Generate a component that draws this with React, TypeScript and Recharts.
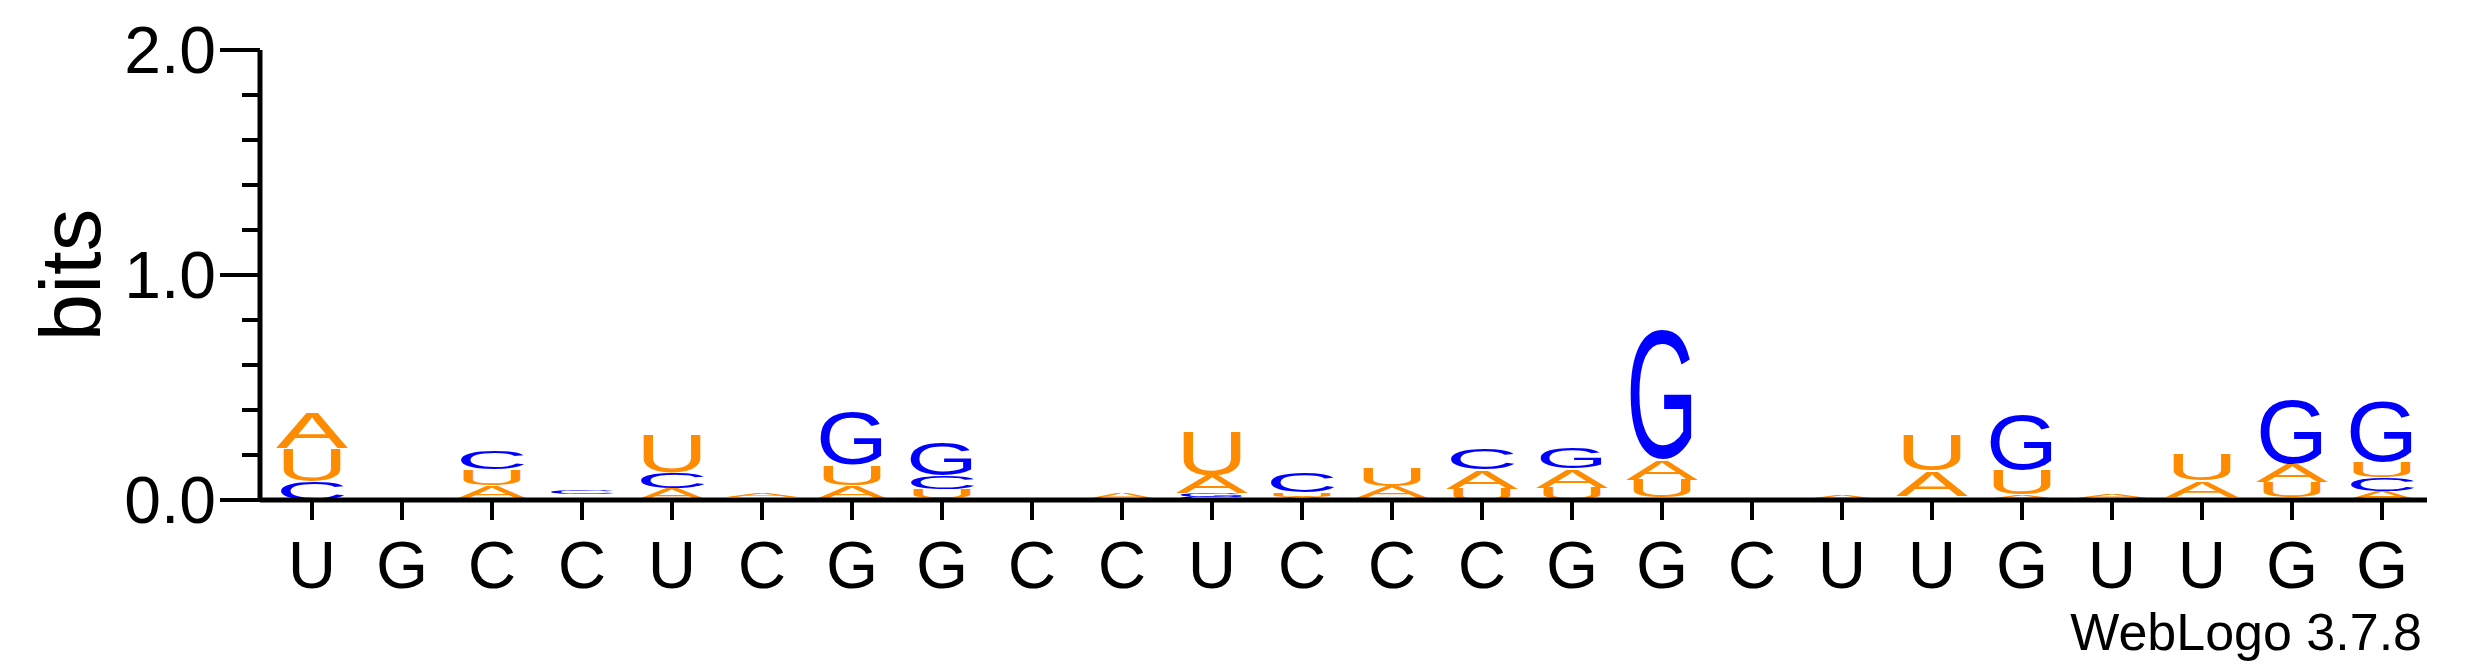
import React from 'react';
import { BarChart, Bar, XAxis, YAxis } from 'recharts';

const positions = ['U','G','C','C','U','C','G','G','C','C','U','C','C','C','G','G','C','U','U','G','U','U','G','G'];
const hA = [0.16,0,0.06,0.01,0.05,0.02,0.06,0.01,0,0.03,0.08,0.015,0.05,0.085,0.085,0.09,0,0.015,0.11,0.02,0.015,0.07,0.08,0.04];
const hC = [0.08,0,0.08,0.015,0.07,0.005,0.005,0.06,0,0,0.015,0.09,0.01,0.095,0.005,0.01,0,0,0.01,0.005,0,0.01,0.01,0.06];
const hG = [0,0,0.005,0.005,0,0,0.24,0.15,0,0,0.015,0,0,0,0.095,0.58,0,0,0.01,0.25,0,0.005,0.29,0.27];
const hU = [0.15,0,0.07,0.01,0.17,0.01,0.09,0.04,0,0.005,0.2,0.02,0.08,0.05,0.05,0.08,0,0.005,0.16,0.11,0.01,0.12,0.07,0.07];
const yTicks = [0,0.2,0.4,0.6,0.8,1,1.2,1.4,1.6,1.8,2];
const yLabels = ['0.0','1.0','2.0'];

const colors: Record<string,string> = { A: '#FF8C00', U: '#FF8C00', C: '#0000FF', G: '#0000FF' };
const FONT = '"Liberation Sans", Arial, sans-serif';

const data = positions.map((p, i) => {
  const items = [['A',hA[i]],['C',hC[i]],['G',hG[i]],['U',hU[i]]] as [string,number][];
  items.sort((a, b) => a[1] - b[1]);
  const row: any = { pos: i, label: p };
  items.forEach(([l, v], k) => { row['h' + k] = v; row['c' + k] = l; });
  return row;
});

const makeShape = (k: number) => (props: any) => {
  const { x, y, width, height, payload } = props;
  if (!height || height < 2.5) return <g />;
  const l = payload['c' + k];
  return (
    <text
      transform={`translate(${x},${y + height}) scale(${width / 70},${height / 72})`}
      fontSize={100}
      fontFamily={FONT}
      fill={colors[l]}
      x={-1}
      y={l === 'A' ? 0 : -1.2}
      textLength={72}
      lengthAdjust="spacingAndGlyphs"
    >{l}</text>
  );
};

const XTick = (props: any) => {
  const { x, y, payload } = props;
  return (
    <text x={x} y={y + 68} textAnchor="middle" fontSize={67} fontFamily={FONT} fill="#000">
      {positions[payload.value]}
    </text>
  );
};

const YTick = (props: any) => {
  const { x, y, payload } = props;
  const v = payload.value;
  const major = Math.abs(v - Math.round(v)) < 1e-6;
  return (
    <g>
      <line x1={x - (major ? 40 : 18)} x2={x} y1={y} y2={y} stroke="#000" strokeWidth={4} />
      {major && (
        <text x={x - 44} y={y + 23} textAnchor="end" fontSize={66} fontFamily={FONT} fill="#000">
          {yLabels[Math.round(v)]}
        </text>
      )}
    </g>
  );
};

export default function App() {
  return (
    <div style={{ position: 'relative', width: 2459, height: 659 }}>
      <BarChart width={2459} height={659} data={data} margin={{ top: 42, right: 40, bottom: 67, left: 0 }} barCategoryGap="11%">
        <XAxis dataKey="pos" type="category" interval={0} tick={<XTick />} tickSize={20} tickMargin={0}
          tickLine={{ stroke: '#000', strokeWidth: 4 }} axisLine={{ stroke: '#000', strokeWidth: 5 }} height={100}
          padding={{ left: 7, right: 0 }} />
        <YAxis domain={[0, 2]} ticks={yTicks} interval={0} width={252} tickSize={0} tickMargin={0}
          tick={<YTick />} tickLine={false} axisLine={{ stroke: '#000', strokeWidth: 5 }} />
        {[0, 1, 2, 3].map(k => (
          <Bar key={k} dataKey={'h' + k} stackId="s" isAnimationActive={false} shape={makeShape(k)} />
        ))}
      </BarChart>
      <svg width={2459} height={659} style={{ position: 'absolute', left: 0, top: 0, pointerEvents: 'none' }}>
        <text transform="translate(92,267) rotate(-90)" textAnchor="middle" fontSize={85} fontFamily={FONT} fill="#000">bits</text>
        <text x={2414} y={642} textAnchor="end" fontSize={52} fontFamily={FONT} fill="#000">WebLogo 3.7.8</text>
      </svg>
    </div>
  );
}
